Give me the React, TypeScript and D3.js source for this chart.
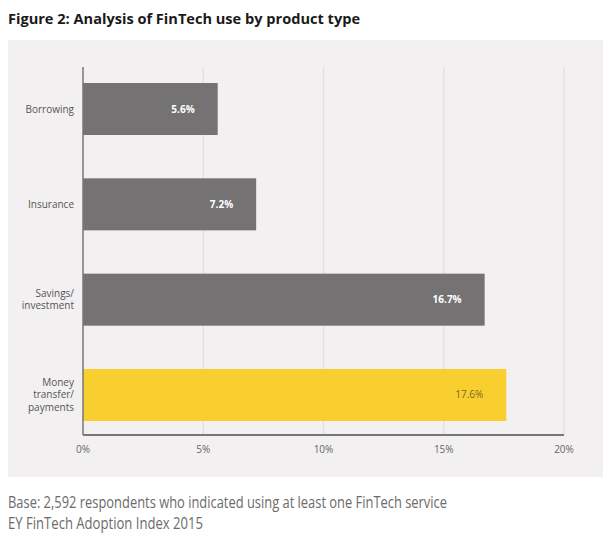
import React from "react";
import * as d3 from "d3";

const categories = ["Borrowing", "Insurance", "Savings/\ninvestment", "Money\ntransfer/\npayments"];
const values = [5.6, 7.2, 16.7, 17.6];
const highlight = [false, false, false, true];
const ticks = [0, 5, 10, 15, 20];
const title = "Figure 2: Analysis of FinTech use by product type";
const footer = [
  "Base: 2,592 respondents who indicated using at least one FinTech service",
  "EY FinTech Adoption Index 2015",
];
const footerWidths = [439, 195];

export default function App() {
  const W = 616, H = 540;
  const x = d3.scaleLinear().domain([0, 20]).range([83, 564]);
  const y = d3.scaleBand<number>().domain(d3.range(categories.length)).range([83, 421]).paddingInner(0.4544).paddingOuter(0);
  const font = "'Open Sans', 'DejaVu Sans', sans-serif";
  const top = 67, base = 435;
  return (
    <svg width={W} height={H} style={{ position: "absolute", left: 0, top: 0 }} fontFamily={font}>
      <rect width={W} height={H} fill="#ffffff" />
      <text x={8} y={24} fontSize={15} fontWeight={700} fill="#1a1a1a" textLength={352} lengthAdjust="spacingAndGlyphs">{title}</text>
      <rect x={8} y={40} width={595} height={437} fill="#f2f0f1" />
      {ticks.slice(1).map((t) => (
        <line key={t} x1={x(t)} x2={x(t)} y1={top} y2={base} stroke="#e0dddd" strokeWidth={1.2} />
      ))}
      {values.map((v, i) => (
        <g key={i}>
          <rect x={x(0)} y={y(i)} width={x(v) - x(0)} height={y.bandwidth()} fill={highlight[i] ? "#f8cf2e" : "#747273"} />
          <text x={x(v) - 23} y={y(i)! + y.bandwidth() / 2} dy="0.35em" textAnchor="end" fontSize={10}
            fontWeight={highlight[i] ? 400 : 700} fill={highlight[i] ? "#7a6a24" : "#ffffff"}>{v.toFixed(1)}%</text>
          {categories[i].split("\n").map((line, j, arr) => (
            <text key={j} x={74} y={y(i)! + y.bandwidth() / 2 + (j - (arr.length - 1) / 2) * 12.5} dy="0.35em"
              textAnchor="end" fontSize={10} fill="#555">{line}</text>
          ))}
        </g>
      ))}
      <line x1={x(0)} x2={x(0)} y1={top} y2={base} stroke="#777" strokeWidth={1.5} />
      <line x1={x(0)} x2={x(20)} y1={base} y2={base} stroke="#777" strokeWidth={2} />
      {ticks.map((t) => (
        <text key={t} x={x(t)} y={453} textAnchor="middle" fontSize={10} fill="#666">{t}%</text>
      ))}
      {footer.map((f, i) => (
        <text key={i} x={8} y={508 + i * 21} fontSize={15.5} fill="#6b6b6b"
          textLength={footerWidths[i]} lengthAdjust="spacingAndGlyphs">{f}</text>
      ))}
    </svg>
  );
}
